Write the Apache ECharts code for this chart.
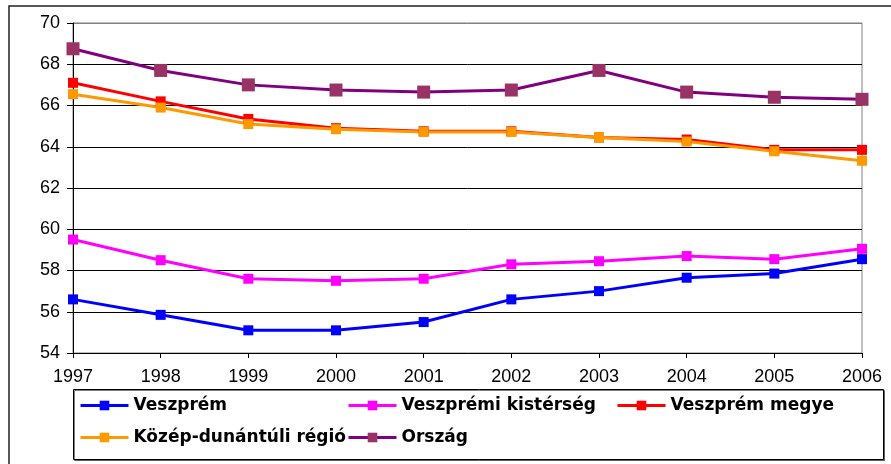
<!DOCTYPE html>
<html>
<head>
<meta charset="utf-8">
<script src="https://cdn.jsdelivr.net/npm/echarts@6/dist/echarts.min.js"></script>
<style>
html, body { margin: 0; padding: 0; background: #fff; }
#chartLineBox { width: 891px; height: 464px; }
</style>
</head>
<body>
<div id="chartLineBox"></div>
<script>
// evek (x tengely)
var years = ["1997", "1998", "1999", "2000", "2001", "2002", "2003", "2004", "2005", "2006"];
var yTicks = [54, 56, 58, 60, 62, 64, 66, 68, 70];

var veszprem = [56.6, 55.85, 55.1, 55.1, 55.5, 56.6, 57.0, 57.65, 57.85, 58.55];
var kisterseg = [59.5, 58.5, 57.6, 57.5, 57.6, 58.3, 58.45, 58.7, 58.55, 59.05];
var megye = [67.1, 66.2, 65.35, 64.9, 64.75, 64.75, 64.45, 64.35, 63.85, 63.85];
var regio = [66.55, 65.9, 65.1, 64.85, 64.72, 64.72, 64.45, 64.25, 63.78, 63.32];
var orszag = [68.75, 67.7, 67.0, 66.75, 66.65, 66.75, 67.7, 66.65, 66.4, 66.3];

var names = ["Veszprém", "Veszprémi kistérség", "Veszprém megye", "Közép-dunántúli régió", "Ország"];

var chartLine = echarts.init(document.getElementById("chartLineBox"), null, { renderer: "canvas" });

function mkSeries(name, data, lineColor, markColor, size) {
  return {
    name: name,
    type: "line",
    data: data,
    symbol: "rect",
    symbolSize: size,
    showAllSymbol: true,
    z: 3,
    lineStyle: { color: lineColor, width: 3 },
    itemStyle: { color: markColor, borderWidth: 0 },
  };
}

function mkLegend(name, left, top) {
  return {
    data: [name],
    left: left,
    top: top,
    padding: 0,
    itemWidth: 48,
    itemHeight: 12,
    itemGap: 0,
    lineStyle: { width: 3 },
    textStyle: {
      fontFamily: "DejaVu Sans",
      fontWeight: "bold",
      fontSize: 17,
      color: "#000",
      padding: [0, 0, 0, 0],
    },
  };
}

var option = {
  animation: false,
  backgroundColor: "#fff",
  graphic: [
    {
      //külső keret
      type: "rect",
      shape: { x: 9, y: 6, width: 900, height: 500 },
      style: { fill: "none", stroke: "#222", lineWidth: 1.5 },
      silent: true,
    },
    {
      //jelmagyarázat keret
      type: "rect",
      shape: { x: 73.5, y: 389.5, width: 810, height: 70 },
      style: { fill: "#fff", stroke: "#000", lineWidth: 1, shadowColor: "rgba(0,0,0,0.5)", shadowOffsetX: 1, shadowOffsetY: 1 },
      silent: true,
      z: -1,
    },
  ],
  grid: {
    left: 73,
    right: 29,
    top: 23,
    bottom: 111,
    show: true,
    borderColor: "#808080",
    borderWidth: 1,
  },
  legend: [
    mkLegend(names[0], 79, 397),
    mkLegend(names[1], 347, 397),
    mkLegend(names[2], 616, 397),
    mkLegend(names[3], 79, 429),
    mkLegend(names[4], 347, 429),
  ],
  xAxis: {
    type: "category",
    boundaryGap: false,
    data: years,
    axisLine: { lineStyle: { color: "#000", width: 1 } },
    axisTick: { show: true, length: 5, lineStyle: { color: "#000" } },
    axisLabel: {
      color: "#000",
      fontFamily: "Liberation Sans",
      fontSize: 18,
      margin: 15,
    },
    splitLine: { show: false },
  },
  yAxis: {
    type: "value",
    min: yTicks[0],
    max: yTicks[yTicks.length - 1],
    interval: 2,
    axisLine: { show: true, lineStyle: { color: "#000", width: 1 } },
    axisTick: { show: true, length: 6, lineStyle: { color: "#000" } },
    axisLabel: {
      color: "#000",
      fontFamily: "Liberation Sans",
      fontSize: 18,
      margin: 13,
    },
    splitLine: {
      show: true,
      lineStyle: { color: ["#000", "#000", "#000", "#000", "#000", "#000", "#000", "#000", "#808080"], width: 1 },
    },
  },
  series: [
    mkSeries(names[0], veszprem, "#0000FF", "#0000FF", 10),
    mkSeries(names[1], kisterseg, "#FF00FF", "#FF00FF", 10),
    mkSeries(names[2], megye, "#FF0000", "#FF0000", 10),
    mkSeries(names[3], regio, "#FF9900", "#FF9900", 10),
    mkSeries(names[4], orszag, "#800080", "#993366", 13),
  ],
};

chartLine.setOption(option);
</script>
</body>
</html>
